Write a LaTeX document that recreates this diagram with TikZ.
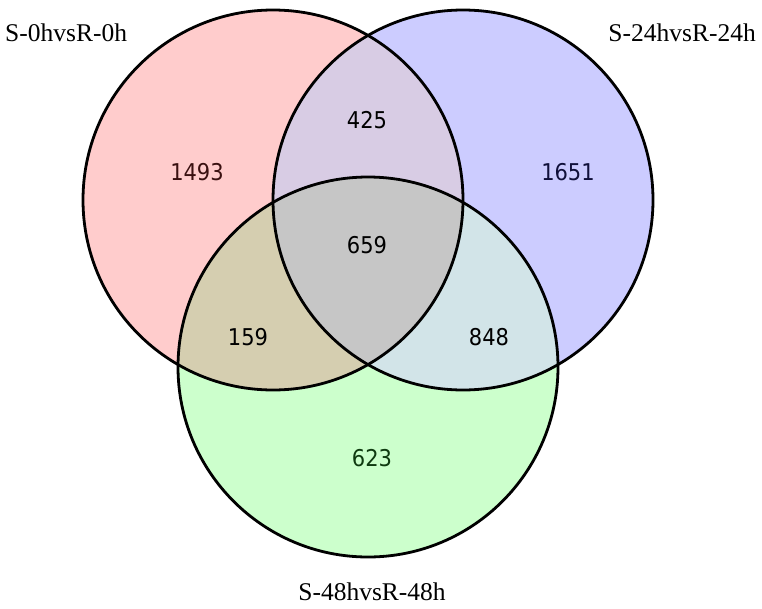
\documentclass[tikz,border=0pt]{standalone}
\usepackage{fontspec}
\setmainfont{Liberation Serif}
\newfontfamily\numfont{DejaVu Sans}
\definecolor{cL}{HTML}{FFCCCC}
\definecolor{cR}{HTML}{CCCCFF}
\definecolor{cB}{HTML}{CCFFCC}
\definecolor{cLR}{HTML}{D8CCE4}
\definecolor{cLB}{HTML}{D5CEB0}
\definecolor{cRB}{HTML}{D2E4E8}
\definecolor{cLRB}{HTML}{C6C6C6}
\definecolor{tL}{HTML}{3A1010}
\definecolor{tR}{HTML}{10103A}
\definecolor{tB}{HTML}{0F3A10}
\begin{document}
\begin{tikzpicture}[x=1pt,y=-1pt,
  setlabel/.style={font=\fontsize{25.5}{28}\selectfont, inner sep=0pt},
  count/.style={font=\numfont\fontsize{21}{23}\selectfont, inner sep=0pt, yscale=1.1, transform shape},
  ring/.style={draw=black, line width=2.8pt}]
\useasboundingbox (0,0) rectangle (762,608);
\def\circL{(273,200) circle (190)}
\def\circR{(463,200) circle (190)}
\def\circB{(368,367) circle (190)}
% single fills
\fill[cL] \circL;
\fill[cR] \circR;
\fill[cB] \circB;
% pairwise
\begin{scope}\clip \circL; \fill[cLR] \circR; \end{scope}
\begin{scope}\clip \circL; \fill[cLB] \circB; \end{scope}
\begin{scope}\clip \circR; \fill[cRB] \circB; \end{scope}
\begin{scope}\clip \circL; \clip \circR; \fill[cLRB] \circB; \end{scope}
% outlines
\draw[ring] \circL;
\draw[ring] \circR;
\draw[ring] \circB;
% counts
\node[count, text=tL] (n1493) at (197,172) {1493};
\node[count, text=tR] (n1651) at (568,172) {1651};
\node[count, text=tB] (n623) at (372,458) {623};
\node[count] (n425) at (367,120) {425};
\node[count] (n659) at (367,245) {659};
\node[count] (n159) at (248,337) {159};
\node[count] (n848) at (489,337) {848};
% set labels
\node[setlabel, anchor=west] (lab0) at (5,33) {S-0hvsR-0h};
\node[setlabel, anchor=east] (lab24) at (756,33) {S-24hvsR-24h};
\node[setlabel] (lab48) at (372,592) {S-48hvsR-48h};
\end{tikzpicture}
\end{document}
